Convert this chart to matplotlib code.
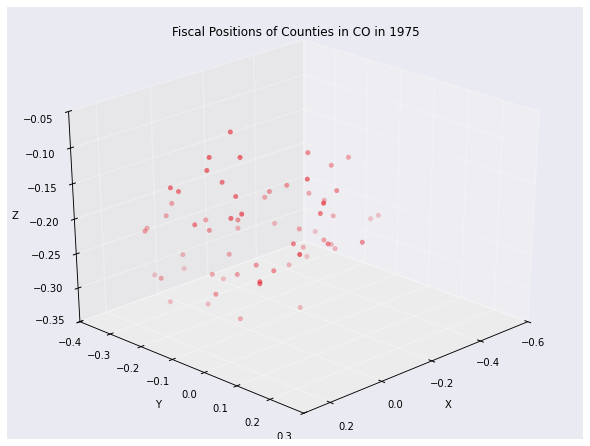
import numpy as np
import matplotlib
matplotlib.use('Agg')
import matplotlib.pyplot as plt
from matplotlib.patches import Rectangle
from matplotlib.transforms import ScaledTranslation

plt.rcParams['font.family'] = ['DejaVu Sans']
plt.rcParams['font.size'] = 10

title = 'Fiscal Positions of Counties in CO in 1975'
x_ticks = [-0.6, -0.4, -0.2, 0.0, 0.2]
y_ticks = [-0.4, -0.3, -0.2, -0.1, 0.0, 0.1, 0.2, 0.3]
z_ticks = [-0.35, -0.3, -0.25, -0.2, -0.15, -0.1, -0.05]
x = [-0.009,0.085,0.026,0.090,0.035,0.161,0.120,0.036,0.005,0.104,0.098,-0.047,-0.036,0.017,0.116,0.010,
     -0.152,0.049,0.112,-0.014,-0.055,-0.067,0.027,0.108,0.006,-0.018,-0.029,-0.095,0.097,0.097,0.078,0.036,
     -0.028,-0.014,-0.239,-0.401,-0.340,-0.103,-0.197,-0.163,-0.207,-0.269,-0.295,-0.353,-0.053,-0.128,-0.344,
     -0.518,-0.502,-0.253,-0.222,-0.362,-0.244,-0.143,-0.341,-0.321,-0.238,-0.049,-0.257,0.074,-0.318,-0.228,-0.037,-0.197]
y = [-0.160,-0.149,-0.103,-0.153,-0.152,-0.208,-0.218,-0.110,-0.339,-0.037,-0.075,-0.172,-0.265,-0.348,-0.173,-0.216,
     -0.258,-0.385,-0.337,-0.324,-0.208,-0.366,-0.384,-0.293,-0.213,-0.153,-0.102,-0.261,0.010,0.010,-0.143,-0.327,
     -0.257,-0.142,-0.107,-0.107,-0.113,-0.003,-0.139,-0.166,-0.216,-0.042,-0.147,-0.144,0.084,0.017,-0.109,
     -0.100,-0.112,-0.222,-0.120,-0.179,-0.061,0.029,-0.112,-0.085,0.060,-0.003,-0.135,0.112,-0.171,-0.157,-0.054,-0.098]
z = [-0.078,-0.100,-0.100,-0.118,-0.141,-0.142,-0.154,-0.154,-0.205,-0.158,-0.171,-0.208,-0.222,-0.223,-0.194,-0.223,
     -0.248,-0.243,-0.231,-0.280,-0.265,-0.315,-0.315,-0.293,-0.287,-0.280,-0.259,-0.316,-0.246,-0.249,-0.294,-0.344,
     -0.344,-0.343,-0.126,-0.152,-0.157,-0.130,-0.172,-0.181,-0.203,-0.173,-0.197,-0.214,-0.143,-0.178,-0.230,
     -0.250,-0.255,-0.248,-0.235,-0.267,-0.244,-0.221,-0.272,-0.271,-0.226,-0.214,-0.269,-0.193,-0.297,-0.295,-0.260,-0.344]

W, H = 590, 446
fig = plt.figure(figsize=(W/72, H/72), dpi=72, facecolor='white')
fig.add_artist(Rectangle((7/W, 7/H), 576/W, 432/H, transform=fig.transFigure, fc='#EAEAF2', ec='none', zorder=-5))
ax = fig.add_axes([6/W, 7/H, 580/W, 428/H], projection='3d')
ax.patch.set_visible(False)
ax.apply_aspect = lambda position=None: None
ax.set_box_aspect((1, 1, 1), zoom=24/25*0.98)
ax.view_init(elev=28.7, azim=45)
ax.set_xlim(-0.6, 0.3); ax.set_ylim(-0.4, 0.3); ax.set_zlim(-0.35, -0.05)
ax.set_xticks(x_ticks); ax.set_yticks(y_ticks); ax.set_zticks(z_ticks)
ax.set_xlabel('X'); ax.set_ylabel('Y'); ax.set_zlabel('Z')
for a, pane in ((ax.xaxis, (0.93, 0.93, 0.95, 1)), (ax.yaxis, (0.905, 0.905, 0.915, 1)), (ax.zaxis, (0.925, 0.925, 0.93, 1))):
    a.set_pane_color(pane)
    a.pane.set_edgecolor('none')
    a._axinfo['grid'].update(color=(1, 1, 1, 0.25), linewidth=1.5)
    a._axinfo['tick'].update(inward_factor=0.15, outward_factor=0.15)
    a._axinfo['tick']['linewidth'] = {True: 1.0, False: 0.5}
    a._axinfo['tick']['color'] = 'black'
    a.line.set_color('black'); a.line.set_linewidth(0.9)

def offset(dx, dy):
    return ax.transData + ScaledTranslation(dx/72, dy/72, fig.dpi_scale_trans)

def shift(axis, first, last, label):
    orig_ticks = axis.get_major_ticks
    def get_major_ticks(numticks=None):
        ticks = orig_ticks(numticks)
        n = max(len(ticks) - 1, 1)
        for i, t in enumerate(ticks):
            f = i / n
            t.label1.set_transform(offset(first[0] + f*(last[0]-first[0]), first[1] + f*(last[1]-first[1])))
        return ticks
    axis.get_major_ticks = get_major_ticks
    orig_draw = axis.label.draw
    def draw(renderer):
        axis.label._transform = offset(*label)
        orig_draw(renderer)
    axis.label.draw = draw

shift(ax.zaxis, (-10, 6), (-10, -3), (-16, 3))
shift(ax.xaxis, (-5, -4), (6, -6), (7, -11))
shift(ax.yaxis, (0, -4), (-9, -5), (-8, -11))
fig.add_artist(Rectangle((0, 0), 1, 7/H, transform=fig.transFigure, fc='white', ec='none', zorder=10))
ax.scatter(x, y, z, c=[(0.9, 0.12, 0.17, 0.68)], s=25, linewidths=0)
ax.set_title(title, fontsize=12, y=1.008)
fig.savefig('out.png', dpi=72, facecolor='white')
